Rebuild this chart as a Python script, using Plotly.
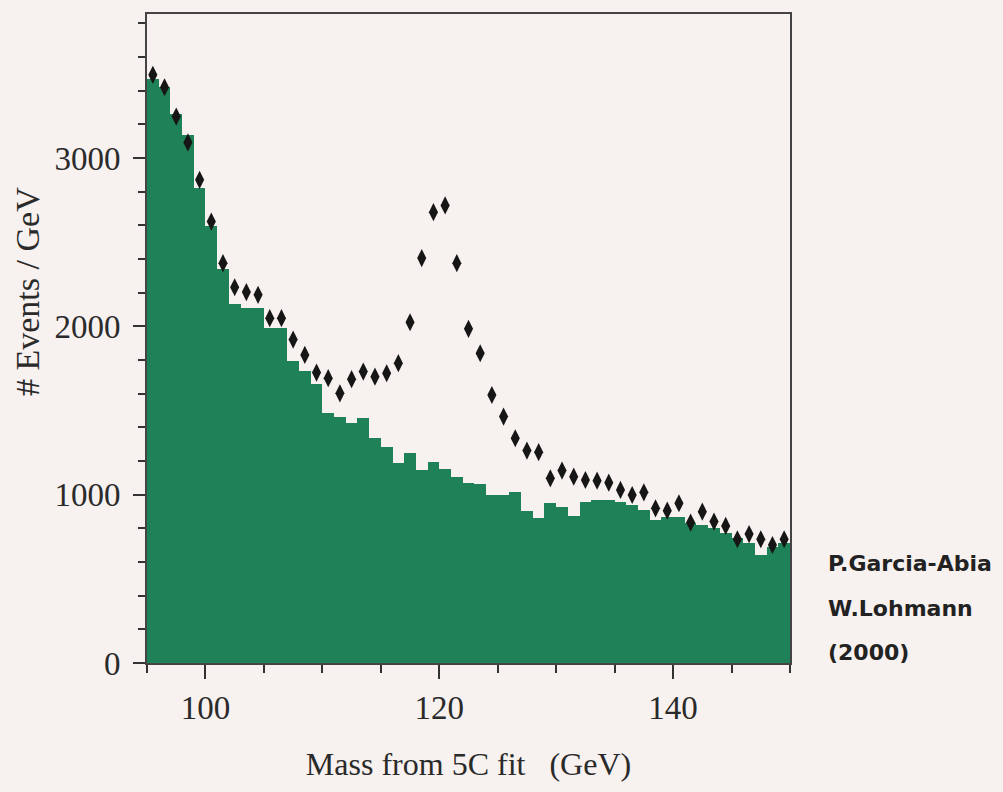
import plotly.graph_objects as go

# Bin centres (1 GeV bins) of the 5C-fit mass
mass = [95.5, 96.5, 97.5, 98.5, 99.5, 100.5, 101.5, 102.5, 103.5, 104.5,
        105.5, 106.5, 107.5, 108.5, 109.5, 110.5, 111.5, 112.5, 113.5, 114.5,
        115.5, 116.5, 117.5, 118.5, 119.5, 120.5, 121.5, 122.5, 123.5, 124.5,
        125.5, 126.5, 127.5, 128.5, 129.5, 130.5, 131.5, 132.5, 133.5, 134.5,
        135.5, 136.5, 137.5, 138.5, 139.5, 140.5, 141.5, 142.5, 143.5, 144.5,
        145.5, 146.5, 147.5, 148.5, 149.5]

# Background histogram (green)
background = [3470, 3420, 3260, 3135, 2820, 2595, 2340, 2130, 2110, 2108,
              1990, 1990, 1795, 1735, 1655, 1484, 1464, 1424, 1454, 1335,
              1285, 1186, 1246, 1147, 1196, 1150, 1107, 1068, 1065, 1000,
              998, 1018, 905, 860, 949, 929, 872, 958, 968, 968,
              958, 939, 909, 850, 869, 869, 830, 820, 800, 770,
              741, 711, 642, 691, 711]

# Signal + background (points)
events = [3494, 3420, 3246, 3092, 2870, 2622, 2375, 2232, 2203, 2187,
          2048, 2048, 1921, 1830, 1725, 1692, 1602, 1686, 1731, 1701,
          1721, 1781, 2024, 2405, 2678, 2718, 2375, 1985, 1840, 1592,
          1464, 1335, 1262, 1252, 1097, 1143, 1107, 1087, 1083, 1071,
          1028, 998, 1014, 919, 905, 949, 834, 899, 840, 814,
          735, 766, 735, 701, 735]

x_ticks = [100, 120, 140]
y_ticks = [0, 1000, 2000, 3000]
credits = ["P.Garcia-Abia", "W.Lohmann", "(2000)"]

BG = "#f7f1ef"
GREEN = "#1f8157"
INK = "#2a2a2a"

fig = go.Figure()
fig.add_trace(go.Bar(x=mass, y=background, width=1.0,
                     marker=dict(color=GREEN, line=dict(width=0)),
                     showlegend=False, hoverinfo="x+y"))
fig.add_trace(go.Scatter(x=mass, y=events, mode="markers",
                         marker=dict(symbol="diamond-tall", size=13, color="#161616"),
                         showlegend=False))

fig.update_layout(
    width=1003, height=792,
    margin=dict(l=147, r=213, t=14, b=129),
    paper_bgcolor=BG, plot_bgcolor=BG,
    bargap=0,
    font=dict(family="Liberation Serif", color=INK),
)

fig.update_xaxes(
    range=[95, 150], tickvals=x_ticks, ticktext=[str(v) for v in x_ticks],
    ticks="outside", ticklen=14, tickwidth=1.5, tickcolor="#333",
    minor=dict(dtick=5, tick0=95, ticks="outside", ticklen=8, tickwidth=1.5,
               tickcolor="#333", showgrid=False),
    showline=True, linecolor="#444", linewidth=2, mirror=True,
    showgrid=False, zeroline=False,
    tickfont=dict(size=33, family="Liberation Serif", color=INK),
    title=dict(text="Mass from 5C fit\u00a0\u00a0\u00a0(GeV)",
               font=dict(size=32, family="Liberation Serif", color=INK),
               standoff=28),
)
fig.update_yaxes(
    range=[0, 3855], tickvals=y_ticks, ticktext=[str(v) for v in y_ticks],
    ticks="outside", ticklen=12, tickwidth=1.5, tickcolor="#333",
    minor=dict(dtick=200, tick0=0, ticks="outside", ticklen=7, tickwidth=1.5,
               tickcolor="#333", showgrid=False),
    showline=True, linecolor="#444", linewidth=2, mirror=True,
    showgrid=False, zeroline=False,
    tickfont=dict(size=33, family="Liberation Serif", color=INK),
    ticklabelstandoff=6,
)

fig.add_annotation(text="# Events / GeV", xref="paper", yref="paper",
                   x=(27 - 147) / 643, y=(663 - 292) / 649, textangle=-90,
                   showarrow=False, xanchor="center", yanchor="middle",
                   font=dict(size=34, family="Liberation Serif", color=INK))

for txt, ypx in zip(credits, [563, 608, 652]):
    fig.add_annotation(text="<b>" + txt + "</b>", xref="paper", yref="paper",
                       x=(826 - 147) / 643, y=(663 - ypx) / 649,
                       xanchor="left", yanchor="middle", showarrow=False,
                       font=dict(size=22, family="DejaVu Sans", color="#222"))

fig.write_html("out.html")
